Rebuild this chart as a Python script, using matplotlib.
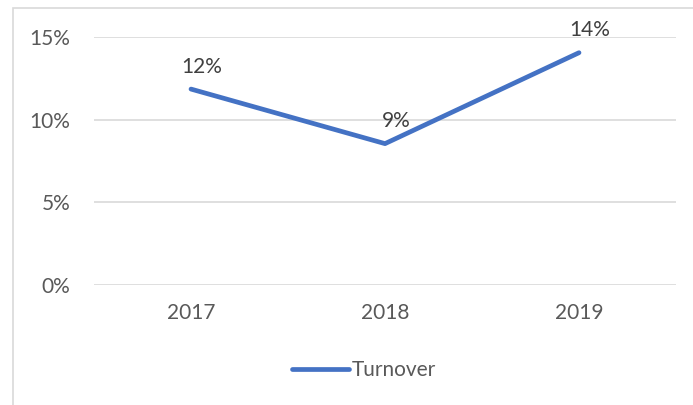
import matplotlib
matplotlib.use("Agg")
import matplotlib.pyplot as plt
from matplotlib.ticker import FuncFormatter
from matplotlib.patches import Rectangle

years = ["2017", "2018", "2019"]
turnover = [11.85, 8.55, 14.05]
labels = ["12%", "9%", "14%"]
yticks = [0, 5, 10, 15]

plt.rcParams['font.family'] = ['Lato', 'DejaVu Sans']
FS = 15

fig = plt.figure(figsize=(6.93, 4.05), dpi=100)
ax = fig.add_axes([94/693, 1-285/405, (676-94)/693, (285-37)/405])

x = list(range(len(years)))
color = "#4472C4"
ax.plot(x, turnover, color=color, lw=3.4, solid_capstyle='round', solid_joinstyle='round',
        label="Turnover", zorder=3)
for xi, yi, lab in zip(x, turnover, labels):
    ax.annotate(lab, (xi, yi), xytext=(8, 16), textcoords='offset points',
                ha='center', va='center', fontsize=FS, color="#404040")

ax.set_xlim(-0.5, 2.5)
ax.set_ylim(0, 15)
ax.set_yticks(yticks)
ax.yaxis.set_major_formatter(FuncFormatter(lambda v, p: f"{int(v)}%"))
ax.set_xticks(x)
ax.set_xticklabels(years)
ax.grid(axis='y', color="#D9D9D9", lw=1.2)
ax.set_axisbelow(True)
for s in ax.spines.values():
    s.set_visible(False)
ax.tick_params(axis='both', length=0, labelsize=FS, labelcolor="#595959")
ax.tick_params(axis='y', pad=17)
ax.tick_params(axis='x', pad=13)

leg = fig.legend(loc='center', bbox_to_anchor=(364/693, 1-370/405), frameon=False,
                 fontsize=FS, handlelength=2.75, handletextpad=0.15)
for t in leg.get_texts():
    t.set_color("#595959")

# outer chart border
fig.patches.append(Rectangle((13/693, -0.05), 1.0, 1 - 8/405 + 0.05, transform=fig.transFigure,
                             fill=False, edgecolor="#D9D9D9", lw=1.2))

fig.savefig("out.png", dpi=100)
